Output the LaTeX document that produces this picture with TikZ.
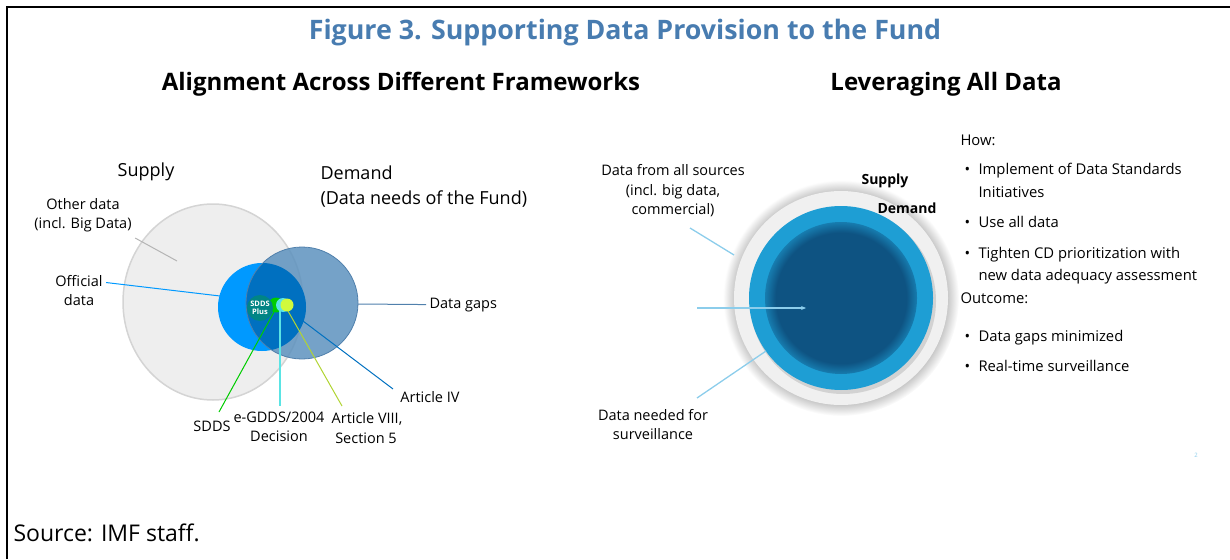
\documentclass[tikz,border=0pt]{standalone}
\usepackage{fontspec}
\setmainfont{Open Sans}
\usetikzlibrary{arrows.meta}

\definecolor{titleblue}{RGB}{72,124,176}
\definecolor{supplygray}{RGB}{238,238,238}
\definecolor{supplyedge}{RGB}{212,212,212}
\definecolor{officialblue}{RGB}{0,153,255}
\definecolor{overlapblue}{RGB}{0,112,192}
\definecolor{demandblue}{RGB}{93,146,190}
\definecolor{demandedge}{RGB}{80,128,172}
\definecolor{plusteal}{RGB}{0,133,133}
\definecolor{dotgreen}{RGB}{0,204,0}
\definecolor{dotcyan}{RGB}{90,228,228}
\definecolor{dotyellow}{RGB}{208,250,60}
\definecolor{othergray}{RGB}{180,180,180}
\definecolor{ringblue}{RGB}{30,158,212}
\definecolor{corenavy}{RGB}{14,83,130}
\definecolor{paleblue}{RGB}{140,205,235}
\definecolor{supplylight}{RGB}{240,240,240}

\pgfdeclareradialshading{haloshade}{\pgfpoint{0bp}{0bp}}{color(0bp)=(black!40); color(20.5bp)=(black!40); color(25bp)=(white); color(50bp)=(white)}
\pgfdeclareradialshading{coreshade}{\pgfpoint{0bp}{0bp}}{color(0bp)=(corenavy); color(21.5bp)=(corenavy); color(25bp)=(ringblue!55!corenavy); color(50bp)=(ringblue!55!corenavy)}

\begin{document}
\begin{tikzpicture}[x=1pt,y=-1pt,
  head/.style={font=\fontsize{24}{28}\selectfont\bfseries, anchor=base},
  bigl/.style={font=\fontsize{18}{21}\selectfont, anchor=base},
  lbl/.style={font=\fontsize{14.5}{17}\selectfont, anchor=base},
  item/.style={font=\fontsize{14.8}{17}\selectfont, anchor=base west},
  lead/.style={line width=1pt}]
\useasboundingbox (0,0) rectangle (1230,559);
\draw[line width=2pt] (7,559) -- (7,7) -- (1230,7);

% titles
\node[font=\fontsize{26.8}{30}\selectfont\bfseries, text=titleblue, anchor=base] (title) at (625,40) {Figure 3. Supporting Data Provision to the Fund};
\node[head] (lefthead) at (401,91) {Alignment Across Different Frameworks};
\node[head] (righthead) at (946,91) {Leveraging All Data};

% left: alignment across frameworks
\fill[supplygray, draw=supplyedge, line width=1.5pt] (213,302) ellipse [x radius=90, y radius=98];
\fill[officialblue] (262,307) circle [radius=44];
\fill[demandblue, opacity=.85] (302,303) circle [radius=56];
\begin{scope}
\clip (262,307) circle [radius=44];
\fill[overlapblue] (302,303) circle [radius=56];
\end{scope}
\draw[demandedge, line width=.8pt] (302,303) circle [radius=56];
\fill[dotgreen] (276,305) circle [radius=7.5];
\fill[dotcyan] (283,305) circle [radius=7];
\fill[dotyellow] (287,305) circle [radius=6.5];
\node[circle, fill=plusteal, minimum size=26pt, inner sep=0pt, text=white, align=center,
  font=\fontsize{7.5}{8.5}\selectfont\bfseries] (plus) at (260,308) {SDDS\\Plus};

\node[bigl] (supply) at (146,176) {Supply};
\node[bigl, anchor=base west] (demand) at (317,179) {Demand};
\node[bigl, anchor=base west] (needs) at (317,204) {(Data needs of the Fund)};
\node[lbl] (otherA) at (83,209) {Other data};
\node[lbl] (otherB) at (83,228) {(incl. Big Data)};
\node[lbl] (offA) at (79,286) {Official};
\node[lbl] (offB) at (79,305) {data};
\node[lbl, anchor=base west] (gaps) at (426,308) {Data gaps};
\node[lbl] (sdds) at (212,431) {SDDS};
\node[lbl] (gddsA) at (279,422) {e-GDDS/2004};
\node[lbl] (gddsB) at (279,441) {Decision};
\node[lbl] (art8A) at (367,423) {Article VIII,};
\node[lbl] (art8B) at (366,443) {Section 5};
\node[lbl] (art4) at (430,402) {Article IV};

\coordinate (othertip) at (177,261);
\coordinate (offtip) at (220,296);
\coordinate (gapsroot) at (358,304);
\coordinate (greendot) at (274,312);
\coordinate (cyandot) at (280,310);
\coordinate (yellowdot) at (288,311);
\coordinate (art4root) at (303,321);
\coordinate (sddsfoot) at (219,412);
\coordinate (gddsfoot) at (280,406);
\coordinate (art8foot) at (342,406);
\coordinate (art4foot) at (393,389);

\draw[othergray, lead] (otherB.south east) ++(0,3) -- (othertip);
\draw[officialblue, lead] (offA.east) ++(0,2) -- (offtip);
\draw[demandedge, lead] (gapsroot) -- (gaps.west);
\draw[dotgreen, lead] (greendot) -- (sddsfoot);
\draw[dotcyan, line width=1.5pt] (cyandot) -- (gddsfoot);
\draw[dotyellow!85!black, lead] (yellowdot) -- (art8foot);
\draw[overlapblue, lead] (art4root) -- (art4foot);

% right: leveraging all data
\shade[shading=haloshade] (841,298) circle [radius=118];
\fill[supplylight] (841,298) circle [radius=107];
\fill[black, opacity=.12] (843,301) circle [radius=93];
\fill[ringblue] (841,298) circle [radius=92];
\shade[shading=coreshade] (841,298) circle [radius=76];

\node[font=\fontsize{14}{16}\selectfont\bfseries, anchor=base] (rsupply) at (885,184) {Supply};
\node[font=\fontsize{14}{16}\selectfont\bfseries, anchor=base] (rdemand) at (907,213) {Demand};
\node[lbl] (srcA) at (673,175) {Data from all sources};
\node[lbl] (srcB) at (673,195) {(incl. big data,};
\node[lbl] (srcC) at (673,214) {commercial)};
\node[lbl] (needA) at (653,420) {Data needed for};
\node[lbl] (needB) at (653,439) {surveillance};

\coordinate (srcfoot) at (690,228);
\coordinate (rimtip) at (734,255);
\coordinate (arrowroot) at (697,308);
\coordinate (coretip) at (806,308);
\coordinate (needroot) at (697,398);
\coordinate (ringtip) at (766,351);
\draw[paleblue, line width=1.3pt] (srcfoot) -- (rimtip);
\draw[paleblue, line width=1.3pt, -{Stealth[length=5pt,width=4pt]}] (arrowroot) -- (coretip);
\draw[paleblue, line width=1.3pt] (needroot) -- (ringtip);

% how / outcome
\node[item] (how) at (957,145) {How:};
\node[item] (b1) at (961,174) {•};
\node[item] (t1a) at (975,174) {Implement of Data Standards};
\node[item] (t1b) at (975,197) {Initiatives};
\node[item] (b2) at (961,227) {•};
\node[item] (t2) at (975,227) {Use all data};
\node[item] (b3) at (961,258) {•};
\node[item] (t3a) at (975,258) {Tighten CD prioritization with};
\node[item] (t3b) at (975,280) {new data adequacy assessment};
\node[item] (outc) at (957,303) {Outcome:};
\node[item] (b4) at (961,341) {•};
\node[item] (t4) at (975,341) {Data gaps minimized};
\node[item] (b5) at (961,371) {•};
\node[item] (t5) at (975,371) {Real-time surveillance};

\node[font=\fontsize{6}{7}\selectfont, text=paleblue, anchor=base] (pgno) at (1196,457) {2};
\node[font=\fontsize{23}{26}\selectfont, anchor=base west] (source) at (10,541) {Source: IMF staff.};
\end{tikzpicture}
\end{document}
